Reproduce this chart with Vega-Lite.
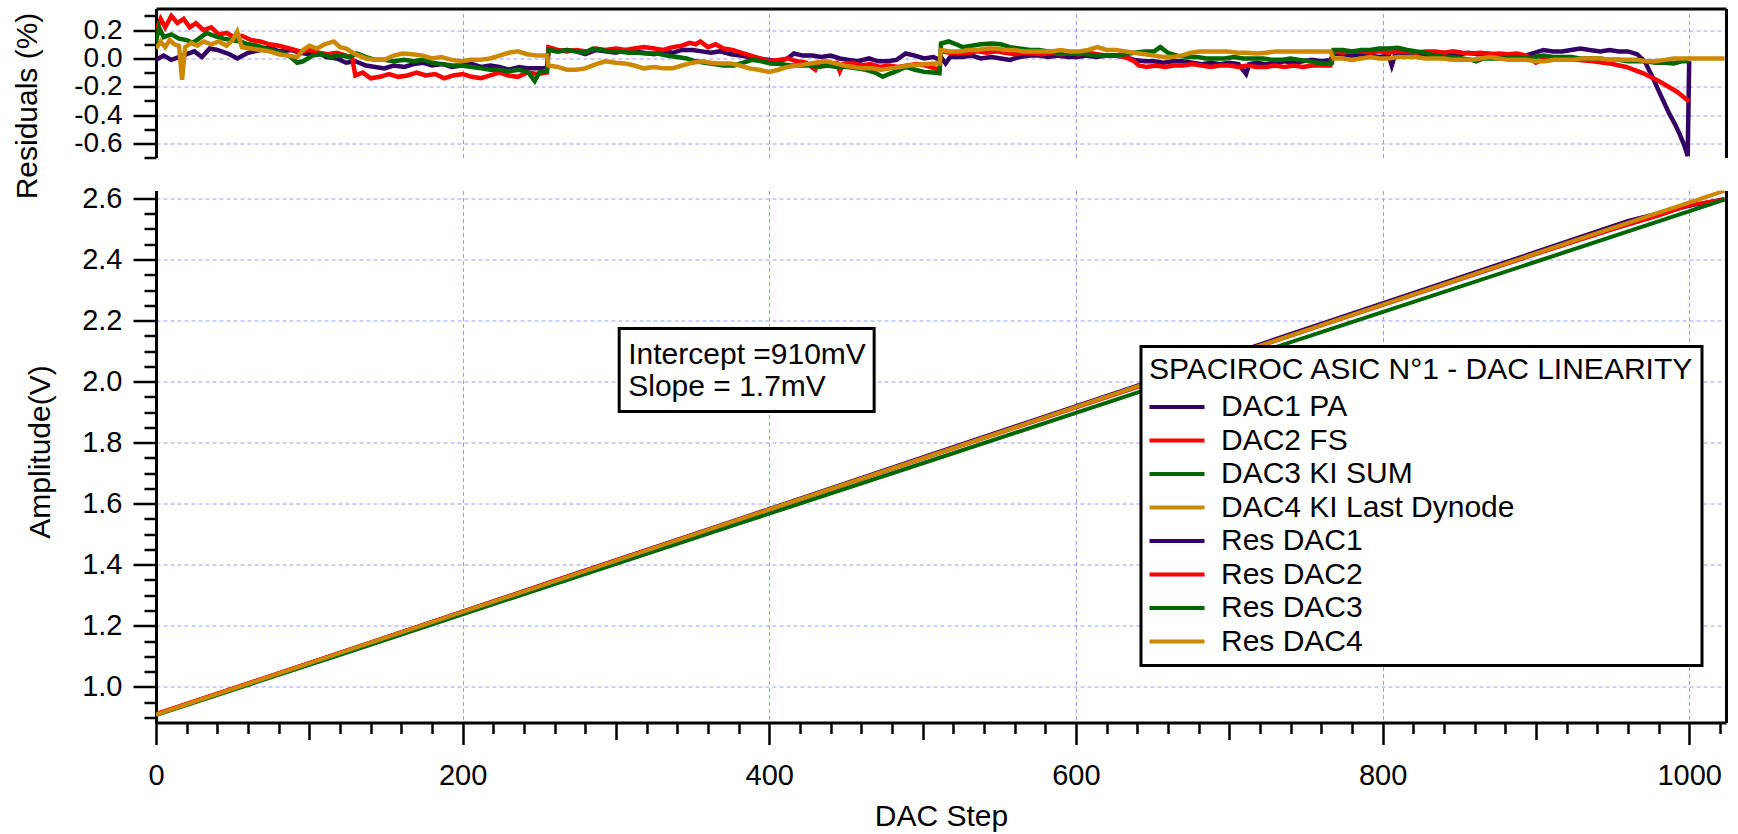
{
  "$schema": "https://vega.github.io/schema/vega-lite/v6.json",
  "padding": {"left": 12, "top": 8.5, "right": 5, "bottom": 0},
  "background": "white",
  "spacing": 33,
  "bounds": "flush",
  "config": {
    "font": "Liberation Sans",
    "view": {"stroke": null},
    "axis": {
      "labelFont": "Liberation Sans", "titleFont": "Liberation Sans",
      "labelFontSize": 29, "titleFontSize": 30, "titleFontWeight": "normal",
      "labelColor": "#000", "titleColor": "#000",
      "domainColor": "#000", "domainWidth": 3,
      "tickColor": "#000", "tickWidth": 2.5,
      "gridColor": "#9a9aff", "gridDash": [4, 3], "gridWidth": 1, "gridOpacity": 1,
      "labelOverlap": false, "labelFlush": false, "labelBound": false
    },
    "legend": {
      "orient": "none", "legendX": 985, "legendY": 338,
      "titleFont": "Liberation Sans", "titleFontSize": 30, "titleFontWeight": "normal", "titleColor": "#000",
      "labelFont": "Liberation Sans", "labelFontSize": 30, "labelColor": "#000",
      "symbolType": "M-2,0H2", "symbolSize": 756, "symbolStrokeWidth": 4,
      "strokeColor": "#000", "strokeWidth": 3, "fillColor": "#fff", "padding": 8,
      "rowPadding": 2.5, "titlePadding": 6.6, "labelOffset": 28, "symbolOffset": 12,
      "labelLimit": 700, "titleLimit": 700
    }
  },
  "datasets": {
    "amp": [
      {"s":"DAC1 PA","x":0,"y":0.910},{"s":"DAC1 PA","x":128,"y":1.125},{"s":"DAC1 PA","x":256,"y":1.341},{"s":"DAC1 PA","x":384,"y":1.556},{"s":"DAC1 PA","x":512,"y":1.772},{"s":"DAC1 PA","x":640,"y":1.987},{"s":"DAC1 PA","x":768,"y":2.203},{"s":"DAC1 PA","x":896,"y":2.418},{"s":"DAC1 PA","x":960,"y":2.526},{"s":"DAC1 PA","x":980,"y":2.552},{"s":"DAC1 PA","x":999,"y":2.574},{"s":"DAC1 PA","x":1023,"y":2.598},
      {"s":"DAC2 FS","x":0,"y":0.911},{"s":"DAC2 FS","x":128,"y":1.125},{"s":"DAC2 FS","x":256,"y":1.340},{"s":"DAC2 FS","x":384,"y":1.554},{"s":"DAC2 FS","x":512,"y":1.768},{"s":"DAC2 FS","x":640,"y":1.982},{"s":"DAC2 FS","x":768,"y":2.197},{"s":"DAC2 FS","x":896,"y":2.411},{"s":"DAC2 FS","x":950,"y":2.499},{"s":"DAC2 FS","x":980,"y":2.544},{"s":"DAC2 FS","x":1000,"y":2.578},{"s":"DAC2 FS","x":1023,"y":2.597},
      {"s":"DAC3 KI SUM","x":0,"y":0.907},{"s":"DAC3 KI SUM","x":128,"y":1.118},{"s":"DAC3 KI SUM","x":256,"y":1.330},{"s":"DAC3 KI SUM","x":384,"y":1.541},{"s":"DAC3 KI SUM","x":512,"y":1.752},{"s":"DAC3 KI SUM","x":640,"y":1.964},{"s":"DAC3 KI SUM","x":768,"y":2.175},{"s":"DAC3 KI SUM","x":896,"y":2.386},{"s":"DAC3 KI SUM","x":1023,"y":2.596},
      {"s":"DAC4 KI Last Dynode","x":0,"y":0.909},{"s":"DAC4 KI Last Dynode","x":128,"y":1.124},{"s":"DAC4 KI Last Dynode","x":256,"y":1.339},{"s":"DAC4 KI Last Dynode","x":384,"y":1.554},{"s":"DAC4 KI Last Dynode","x":512,"y":1.769},{"s":"DAC4 KI Last Dynode","x":640,"y":1.984},{"s":"DAC4 KI Last Dynode","x":768,"y":2.198},{"s":"DAC4 KI Last Dynode","x":896,"y":2.413},{"s":"DAC4 KI Last Dynode","x":1023,"y":2.625}
    ],
    "res": [
      {"s":"Res DAC1","x":0,"y":-0.01},{"s":"Res DAC1","x":5,"y":0.02},{"s":"Res DAC1","x":10,"y":-0.01},{"s":"Res DAC1","x":15,"y":0.01},{"s":"Res DAC1","x":20,"y":0.03},{"s":"Res DAC1","x":25,"y":0.05},{"s":"Res DAC1","x":30,"y":0.01},{"s":"Res DAC1","x":35,"y":0.07},{"s":"Res DAC1","x":40,"y":0.06},{"s":"Res DAC1","x":48,"y":0.03},{"s":"Res DAC1","x":53,"y":0.0},{"s":"Res DAC1","x":60,"y":0.04},{"s":"Res DAC1","x":68,"y":0.06},{"s":"Res DAC1","x":74,"y":0.08},{"s":"Res DAC1","x":80,"y":0.05},{"s":"Res DAC1","x":88,"y":0.06},{"s":"Res DAC1","x":94,"y":0.04},{"s":"Res DAC1","x":100,"y":0.03},{"s":"Res DAC1","x":106,"y":0.04},{"s":"Res DAC1","x":111,"y":0.01},{"s":"Res DAC1","x":118,"y":0.0},{"s":"Res DAC1","x":124,"y":-0.03},{"s":"Res DAC1","x":130,"y":-0.02},{"s":"Res DAC1","x":137,"y":-0.05},{"s":"Res DAC1","x":143,"y":-0.06},{"s":"Res DAC1","x":149,"y":-0.07},{"s":"Res DAC1","x":155,"y":-0.05},{"s":"Res DAC1","x":162,"y":-0.06},{"s":"Res DAC1","x":168,"y":-0.04},{"s":"Res DAC1","x":174,"y":-0.03},{"s":"Res DAC1","x":180,"y":-0.05},{"s":"Res DAC1","x":187,"y":-0.04},{"s":"Res DAC1","x":193,"y":-0.06},{"s":"Res DAC1","x":199,"y":-0.05},{"s":"Res DAC1","x":206,"y":-0.04},{"s":"Res DAC1","x":212,"y":-0.06},{"s":"Res DAC1","x":218,"y":-0.05},{"s":"Res DAC1","x":224,"y":-0.06},{"s":"Res DAC1","x":230,"y":-0.08},{"s":"Res DAC1","x":237,"y":-0.06},{"s":"Res DAC1","x":243,"y":-0.07},{"s":"Res DAC1","x":249,"y":-0.07},{"s":"Res DAC1","x":255,"y":-0.06},{"s":"Res DAC1","x":256,"y":0.07},{"s":"Res DAC1","x":262,"y":0.05},{"s":"Res DAC1","x":268,"y":0.06},{"s":"Res DAC1","x":274,"y":0.05},{"s":"Res DAC1","x":280,"y":0.03},{"s":"Res DAC1","x":287,"y":0.06},{"s":"Res DAC1","x":293,"y":0.05},{"s":"Res DAC1","x":300,"y":0.04},{"s":"Res DAC1","x":306,"y":0.06},{"s":"Res DAC1","x":312,"y":0.05},{"s":"Res DAC1","x":318,"y":0.04},{"s":"Res DAC1","x":325,"y":0.03},{"s":"Res DAC1","x":331,"y":0.05},{"s":"Res DAC1","x":337,"y":0.04},{"s":"Res DAC1","x":343,"y":0.06},{"s":"Res DAC1","x":350,"y":0.06},{"s":"Res DAC1","x":356,"y":0.05},{"s":"Res DAC1","x":362,"y":0.04},{"s":"Res DAC1","x":368,"y":0.05},{"s":"Res DAC1","x":375,"y":0.03},{"s":"Res DAC1","x":381,"y":0.02},{"s":"Res DAC1","x":387,"y":0.01},{"s":"Res DAC1","x":393,"y":0.0},{"s":"Res DAC1","x":400,"y":-0.01},{"s":"Res DAC1","x":406,"y":-0.02},{"s":"Res DAC1","x":412,"y":0.0},{"s":"Res DAC1","x":416,"y":0.035},{"s":"Res DAC1","x":422,"y":0.02},{"s":"Res DAC1","x":428,"y":0.02},{"s":"Res DAC1","x":434,"y":0.01},{"s":"Res DAC1","x":440,"y":0.02},{"s":"Res DAC1","x":446,"y":0.0},{"s":"Res DAC1","x":452,"y":-0.01},{"s":"Res DAC1","x":458,"y":-0.02},{"s":"Res DAC1","x":465,"y":0.0},{"s":"Res DAC1","x":471,"y":-0.02},{"s":"Res DAC1","x":477,"y":-0.02},{"s":"Res DAC1","x":483,"y":-0.01},{"s":"Res DAC1","x":489,"y":0.035},{"s":"Res DAC1","x":495,"y":0.02},{"s":"Res DAC1","x":501,"y":0.0},{"s":"Res DAC1","x":507,"y":0.01},{"s":"Res DAC1","x":511,"y":-0.01},{"s":"Res DAC1","x":512,"y":0.01},{"s":"Res DAC1","x":515,"y":-0.035},{"s":"Res DAC1","x":518,"y":0.01},{"s":"Res DAC1","x":526,"y":0.01},{"s":"Res DAC1","x":532,"y":0.02},{"s":"Res DAC1","x":538,"y":0.0},{"s":"Res DAC1","x":545,"y":0.01},{"s":"Res DAC1","x":551,"y":0.0},{"s":"Res DAC1","x":557,"y":-0.01},{"s":"Res DAC1","x":563,"y":0.01},{"s":"Res DAC1","x":570,"y":0.02},{"s":"Res DAC1","x":576,"y":0.02},{"s":"Res DAC1","x":582,"y":0.01},{"s":"Res DAC1","x":588,"y":0.02},{"s":"Res DAC1","x":595,"y":0.01},{"s":"Res DAC1","x":601,"y":0.01},{"s":"Res DAC1","x":607,"y":0.02},{"s":"Res DAC1","x":613,"y":0.01},{"s":"Res DAC1","x":620,"y":0.02},{"s":"Res DAC1","x":626,"y":0.02},{"s":"Res DAC1","x":632,"y":0.01},{"s":"Res DAC1","x":638,"y":-0.01},{"s":"Res DAC1","x":645,"y":-0.02},{"s":"Res DAC1","x":651,"y":-0.02},{"s":"Res DAC1","x":657,"y":-0.03},{"s":"Res DAC1","x":663,"y":-0.02},{"s":"Res DAC1","x":670,"y":-0.02},{"s":"Res DAC1","x":676,"y":-0.03},{"s":"Res DAC1","x":682,"y":-0.04},{"s":"Res DAC1","x":688,"y":-0.03},{"s":"Res DAC1","x":694,"y":-0.04},{"s":"Res DAC1","x":700,"y":-0.03},{"s":"Res DAC1","x":706,"y":-0.04},{"s":"Res DAC1","x":711,"y":-0.11},{"s":"Res DAC1","x":713,"y":-0.04},{"s":"Res DAC1","x":718,"y":-0.03},{"s":"Res DAC1","x":724,"y":-0.04},{"s":"Res DAC1","x":730,"y":-0.03},{"s":"Res DAC1","x":736,"y":-0.02},{"s":"Res DAC1","x":742,"y":-0.03},{"s":"Res DAC1","x":748,"y":-0.02},{"s":"Res DAC1","x":754,"y":-0.01},{"s":"Res DAC1","x":760,"y":-0.02},{"s":"Res DAC1","x":766,"y":-0.01},{"s":"Res DAC1","x":768,"y":0.035},{"s":"Res DAC1","x":774,"y":0.03},{"s":"Res DAC1","x":780,"y":0.02},{"s":"Res DAC1","x":786,"y":0.03},{"s":"Res DAC1","x":792,"y":0.02},{"s":"Res DAC1","x":798,"y":0.01},{"s":"Res DAC1","x":804,"y":0.02},{"s":"Res DAC1","x":806,"y":-0.05},{"s":"Res DAC1","x":808,"y":0.02},{"s":"Res DAC1","x":814,"y":0.03},{"s":"Res DAC1","x":820,"y":0.035},{"s":"Res DAC1","x":826,"y":0.02},{"s":"Res DAC1","x":832,"y":0.03},{"s":"Res DAC1","x":838,"y":0.04},{"s":"Res DAC1","x":844,"y":0.035},{"s":"Res DAC1","x":850,"y":0.03},{"s":"Res DAC1","x":856,"y":0.04},{"s":"Res DAC1","x":862,"y":0.03},{"s":"Res DAC1","x":868,"y":0.035},{"s":"Res DAC1","x":874,"y":0.03},{"s":"Res DAC1","x":880,"y":0.02},{"s":"Res DAC1","x":886,"y":0.03},{"s":"Res DAC1","x":893,"y":0.02},{"s":"Res DAC1","x":899,"y":0.04},{"s":"Res DAC1","x":905,"y":0.06},{"s":"Res DAC1","x":911,"y":0.05},{"s":"Res DAC1","x":917,"y":0.05},{"s":"Res DAC1","x":923,"y":0.06},{"s":"Res DAC1","x":929,"y":0.07},{"s":"Res DAC1","x":935,"y":0.06},{"s":"Res DAC1","x":942,"y":0.05},{"s":"Res DAC1","x":948,"y":0.06},{"s":"Res DAC1","x":954,"y":0.05},{"s":"Res DAC1","x":960,"y":0.05},{"s":"Res DAC1","x":966,"y":0.03},{"s":"Res DAC1","x":971,"y":-0.02},{"s":"Res DAC1","x":976,"y":-0.13},{"s":"Res DAC1","x":981,"y":-0.25},{"s":"Res DAC1","x":987,"y":-0.39},{"s":"Res DAC1","x":991,"y":-0.47},{"s":"Res DAC1","x":994,"y":-0.54},{"s":"Res DAC1","x":997,"y":-0.62},{"s":"Res DAC1","x":999,"y":-0.69},{"s":"Res DAC1","x":1000,"y":-0.02},
      {"s":"Res DAC2","x":0,"y":0.2},{"s":"Res DAC2","x":3,"y":0.28},{"s":"Res DAC2","x":6,"y":0.22},{"s":"Res DAC2","x":10,"y":0.3},{"s":"Res DAC2","x":14,"y":0.25},{"s":"Res DAC2","x":18,"y":0.28},{"s":"Res DAC2","x":22,"y":0.22},{"s":"Res DAC2","x":26,"y":0.25},{"s":"Res DAC2","x":31,"y":0.2},{"s":"Res DAC2","x":36,"y":0.22},{"s":"Res DAC2","x":41,"y":0.17},{"s":"Res DAC2","x":46,"y":0.18},{"s":"Res DAC2","x":51,"y":0.15},{"s":"Res DAC2","x":56,"y":0.16},{"s":"Res DAC2","x":62,"y":0.13},{"s":"Res DAC2","x":68,"y":0.12},{"s":"Res DAC2","x":74,"y":0.1},{"s":"Res DAC2","x":80,"y":0.09},{"s":"Res DAC2","x":87,"y":0.07},{"s":"Res DAC2","x":94,"y":0.05},{"s":"Res DAC2","x":100,"y":0.06},{"s":"Res DAC2","x":106,"y":0.04},{"s":"Res DAC2","x":112,"y":0.03},{"s":"Res DAC2","x":118,"y":0.04},{"s":"Res DAC2","x":124,"y":0.02},{"s":"Res DAC2","x":128,"y":0.0},{"s":"Res DAC2","x":130,"y":-0.12},{"s":"Res DAC2","x":135,"y":-0.1},{"s":"Res DAC2","x":140,"y":-0.14},{"s":"Res DAC2","x":146,"y":-0.13},{"s":"Res DAC2","x":152,"y":-0.11},{"s":"Res DAC2","x":158,"y":-0.13},{"s":"Res DAC2","x":164,"y":-0.12},{"s":"Res DAC2","x":170,"y":-0.1},{"s":"Res DAC2","x":176,"y":-0.12},{"s":"Res DAC2","x":182,"y":-0.11},{"s":"Res DAC2","x":188,"y":-0.14},{"s":"Res DAC2","x":194,"y":-0.12},{"s":"Res DAC2","x":200,"y":-0.11},{"s":"Res DAC2","x":206,"y":-0.13},{"s":"Res DAC2","x":212,"y":-0.14},{"s":"Res DAC2","x":218,"y":-0.12},{"s":"Res DAC2","x":224,"y":-0.1},{"s":"Res DAC2","x":230,"y":-0.12},{"s":"Res DAC2","x":236,"y":-0.13},{"s":"Res DAC2","x":242,"y":-0.1},{"s":"Res DAC2","x":249,"y":-0.11},{"s":"Res DAC2","x":255,"y":-0.1},{"s":"Res DAC2","x":256,"y":0.08},{"s":"Res DAC2","x":262,"y":0.06},{"s":"Res DAC2","x":268,"y":0.05},{"s":"Res DAC2","x":274,"y":0.06},{"s":"Res DAC2","x":281,"y":0.05},{"s":"Res DAC2","x":287,"y":0.07},{"s":"Res DAC2","x":293,"y":0.06},{"s":"Res DAC2","x":300,"y":0.07},{"s":"Res DAC2","x":306,"y":0.06},{"s":"Res DAC2","x":312,"y":0.07},{"s":"Res DAC2","x":318,"y":0.08},{"s":"Res DAC2","x":325,"y":0.07},{"s":"Res DAC2","x":331,"y":0.06},{"s":"Res DAC2","x":337,"y":0.08},{"s":"Res DAC2","x":343,"y":0.09},{"s":"Res DAC2","x":348,"y":0.11},{"s":"Res DAC2","x":352,"y":0.1},{"s":"Res DAC2","x":355,"y":0.12},{"s":"Res DAC2","x":360,"y":0.08},{"s":"Res DAC2","x":365,"y":0.1},{"s":"Res DAC2","x":370,"y":0.07},{"s":"Res DAC2","x":376,"y":0.06},{"s":"Res DAC2","x":382,"y":0.04},{"s":"Res DAC2","x":388,"y":0.02},{"s":"Res DAC2","x":394,"y":0.0},{"s":"Res DAC2","x":400,"y":-0.02},{"s":"Res DAC2","x":406,"y":-0.01},{"s":"Res DAC2","x":412,"y":0.0},{"s":"Res DAC2","x":418,"y":-0.02},{"s":"Res DAC2","x":424,"y":-0.03},{"s":"Res DAC2","x":430,"y":-0.08},{"s":"Res DAC2","x":432,"y":-0.03},{"s":"Res DAC2","x":438,"y":-0.04},{"s":"Res DAC2","x":444,"y":-0.03},{"s":"Res DAC2","x":446,"y":-0.09},{"s":"Res DAC2","x":448,"y":-0.04},{"s":"Res DAC2","x":454,"y":-0.03},{"s":"Res DAC2","x":460,"y":-0.05},{"s":"Res DAC2","x":466,"y":-0.04},{"s":"Res DAC2","x":472,"y":-0.06},{"s":"Res DAC2","x":478,"y":-0.05},{"s":"Res DAC2","x":484,"y":-0.06},{"s":"Res DAC2","x":490,"y":-0.05},{"s":"Res DAC2","x":496,"y":-0.04},{"s":"Res DAC2","x":502,"y":-0.05},{"s":"Res DAC2","x":508,"y":-0.07},{"s":"Res DAC2","x":511,"y":-0.08},{"s":"Res DAC2","x":512,"y":0.05},{"s":"Res DAC2","x":518,"y":0.04},{"s":"Res DAC2","x":524,"y":0.035},{"s":"Res DAC2","x":530,"y":0.04},{"s":"Res DAC2","x":536,"y":0.05},{"s":"Res DAC2","x":542,"y":0.04},{"s":"Res DAC2","x":548,"y":0.05},{"s":"Res DAC2","x":554,"y":0.04},{"s":"Res DAC2","x":560,"y":0.03},{"s":"Res DAC2","x":566,"y":0.04},{"s":"Res DAC2","x":572,"y":0.035},{"s":"Res DAC2","x":578,"y":0.03},{"s":"Res DAC2","x":584,"y":0.04},{"s":"Res DAC2","x":590,"y":0.03},{"s":"Res DAC2","x":596,"y":0.035},{"s":"Res DAC2","x":602,"y":0.03},{"s":"Res DAC2","x":608,"y":0.04},{"s":"Res DAC2","x":614,"y":0.03},{"s":"Res DAC2","x":620,"y":0.02},{"s":"Res DAC2","x":626,"y":0.02},{"s":"Res DAC2","x":632,"y":0.01},{"s":"Res DAC2","x":638,"y":-0.02},{"s":"Res DAC2","x":641,"y":-0.05},{"s":"Res DAC2","x":646,"y":-0.06},{"s":"Res DAC2","x":652,"y":-0.05},{"s":"Res DAC2","x":658,"y":-0.06},{"s":"Res DAC2","x":664,"y":-0.05},{"s":"Res DAC2","x":670,"y":-0.05},{"s":"Res DAC2","x":676,"y":-0.04},{"s":"Res DAC2","x":682,"y":-0.05},{"s":"Res DAC2","x":688,"y":-0.06},{"s":"Res DAC2","x":694,"y":-0.05},{"s":"Res DAC2","x":700,"y":-0.05},{"s":"Res DAC2","x":706,"y":-0.06},{"s":"Res DAC2","x":712,"y":-0.05},{"s":"Res DAC2","x":718,"y":-0.06},{"s":"Res DAC2","x":724,"y":-0.06},{"s":"Res DAC2","x":730,"y":-0.05},{"s":"Res DAC2","x":736,"y":-0.06},{"s":"Res DAC2","x":742,"y":-0.05},{"s":"Res DAC2","x":748,"y":-0.06},{"s":"Res DAC2","x":754,"y":-0.05},{"s":"Res DAC2","x":760,"y":-0.05},{"s":"Res DAC2","x":766,"y":-0.05},{"s":"Res DAC2","x":768,"y":0.05},{"s":"Res DAC2","x":774,"y":0.04},{"s":"Res DAC2","x":780,"y":0.05},{"s":"Res DAC2","x":786,"y":0.05},{"s":"Res DAC2","x":792,"y":0.04},{"s":"Res DAC2","x":798,"y":0.05},{"s":"Res DAC2","x":804,"y":0.04},{"s":"Res DAC2","x":810,"y":0.05},{"s":"Res DAC2","x":816,"y":0.05},{"s":"Res DAC2","x":822,"y":0.04},{"s":"Res DAC2","x":828,"y":0.05},{"s":"Res DAC2","x":834,"y":0.05},{"s":"Res DAC2","x":840,"y":0.04},{"s":"Res DAC2","x":846,"y":0.05},{"s":"Res DAC2","x":852,"y":0.04},{"s":"Res DAC2","x":858,"y":0.035},{"s":"Res DAC2","x":864,"y":0.04},{"s":"Res DAC2","x":870,"y":0.03},{"s":"Res DAC2","x":876,"y":0.035},{"s":"Res DAC2","x":882,"y":0.03},{"s":"Res DAC2","x":888,"y":0.035},{"s":"Res DAC2","x":894,"y":0.02},{"s":"Res DAC2","x":900,"y":-0.03},{"s":"Res DAC2","x":904,"y":-0.01},{"s":"Res DAC2","x":910,"y":-0.01},{"s":"Res DAC2","x":916,"y":-0.01},{"s":"Res DAC2","x":927,"y":-0.01},{"s":"Res DAC2","x":937,"y":-0.02},{"s":"Res DAC2","x":948,"y":-0.035},{"s":"Res DAC2","x":959,"y":-0.06},{"s":"Res DAC2","x":970,"y":-0.105},{"s":"Res DAC2","x":981,"y":-0.165},{"s":"Res DAC2","x":992,"y":-0.235},{"s":"Res DAC2","x":1000,"y":-0.305},
      {"s":"Res DAC3","x":0,"y":0.12},{"s":"Res DAC3","x":2,"y":0.22},{"s":"Res DAC3","x":5,"y":0.15},{"s":"Res DAC3","x":10,"y":0.17},{"s":"Res DAC3","x":15,"y":0.14},{"s":"Res DAC3","x":20,"y":0.13},{"s":"Res DAC3","x":24,"y":0.11},{"s":"Res DAC3","x":28,"y":0.14},{"s":"Res DAC3","x":33,"y":0.18},{"s":"Res DAC3","x":38,"y":0.16},{"s":"Res DAC3","x":44,"y":0.14},{"s":"Res DAC3","x":49,"y":0.13},{"s":"Res DAC3","x":55,"y":0.12},{"s":"Res DAC3","x":60,"y":0.1},{"s":"Res DAC3","x":66,"y":0.09},{"s":"Res DAC3","x":72,"y":0.07},{"s":"Res DAC3","x":78,"y":0.05},{"s":"Res DAC3","x":84,"y":0.03},{"s":"Res DAC3","x":88,"y":0.01},{"s":"Res DAC3","x":92,"y":-0.03},{"s":"Res DAC3","x":96,"y":-0.02},{"s":"Res DAC3","x":102,"y":0.02},{"s":"Res DAC3","x":108,"y":0.03},{"s":"Res DAC3","x":114,"y":0.01},{"s":"Res DAC3","x":120,"y":0.02},{"s":"Res DAC3","x":126,"y":0.01},{"s":"Res DAC3","x":131,"y":0.035},{"s":"Res DAC3","x":137,"y":0.01},{"s":"Res DAC3","x":143,"y":-0.01},{"s":"Res DAC3","x":149,"y":-0.01},{"s":"Res DAC3","x":155,"y":-0.02},{"s":"Res DAC3","x":162,"y":-0.01},{"s":"Res DAC3","x":168,"y":-0.02},{"s":"Res DAC3","x":174,"y":-0.01},{"s":"Res DAC3","x":180,"y":-0.03},{"s":"Res DAC3","x":187,"y":-0.04},{"s":"Res DAC3","x":193,"y":-0.05},{"s":"Res DAC3","x":199,"y":-0.05},{"s":"Res DAC3","x":206,"y":-0.06},{"s":"Res DAC3","x":212,"y":-0.07},{"s":"Res DAC3","x":218,"y":-0.08},{"s":"Res DAC3","x":224,"y":-0.08},{"s":"Res DAC3","x":230,"y":-0.09},{"s":"Res DAC3","x":237,"y":-0.08},{"s":"Res DAC3","x":243,"y":-0.1},{"s":"Res DAC3","x":247,"y":-0.16},{"s":"Res DAC3","x":250,"y":-0.1},{"s":"Res DAC3","x":255,"y":-0.09},{"s":"Res DAC3","x":256,"y":0.06},{"s":"Res DAC3","x":262,"y":0.05},{"s":"Res DAC3","x":268,"y":0.06},{"s":"Res DAC3","x":274,"y":0.05},{"s":"Res DAC3","x":280,"y":0.04},{"s":"Res DAC3","x":285,"y":0.07},{"s":"Res DAC3","x":290,"y":0.06},{"s":"Res DAC3","x":296,"y":0.05},{"s":"Res DAC3","x":302,"y":0.05},{"s":"Res DAC3","x":308,"y":0.04},{"s":"Res DAC3","x":314,"y":0.04},{"s":"Res DAC3","x":320,"y":0.035},{"s":"Res DAC3","x":327,"y":0.035},{"s":"Res DAC3","x":333,"y":0.02},{"s":"Res DAC3","x":340,"y":0.01},{"s":"Res DAC3","x":346,"y":0.0},{"s":"Res DAC3","x":352,"y":-0.02},{"s":"Res DAC3","x":358,"y":-0.03},{"s":"Res DAC3","x":364,"y":-0.04},{"s":"Res DAC3","x":370,"y":-0.05},{"s":"Res DAC3","x":377,"y":-0.05},{"s":"Res DAC3","x":383,"y":-0.03},{"s":"Res DAC3","x":389,"y":-0.01},{"s":"Res DAC3","x":395,"y":-0.02},{"s":"Res DAC3","x":401,"y":-0.035},{"s":"Res DAC3","x":407,"y":-0.04},{"s":"Res DAC3","x":414,"y":-0.05},{"s":"Res DAC3","x":420,"y":-0.05},{"s":"Res DAC3","x":426,"y":-0.05},{"s":"Res DAC3","x":432,"y":-0.06},{"s":"Res DAC3","x":438,"y":-0.05},{"s":"Res DAC3","x":444,"y":-0.06},{"s":"Res DAC3","x":451,"y":-0.06},{"s":"Res DAC3","x":457,"y":-0.07},{"s":"Res DAC3","x":463,"y":-0.08},{"s":"Res DAC3","x":469,"y":-0.1},{"s":"Res DAC3","x":474,"y":-0.13},{"s":"Res DAC3","x":478,"y":-0.11},{"s":"Res DAC3","x":483,"y":-0.09},{"s":"Res DAC3","x":489,"y":-0.06},{"s":"Res DAC3","x":495,"y":-0.08},{"s":"Res DAC3","x":501,"y":-0.095},{"s":"Res DAC3","x":507,"y":-0.1},{"s":"Res DAC3","x":511,"y":-0.105},{"s":"Res DAC3","x":512,"y":0.105},{"s":"Res DAC3","x":517,"y":0.12},{"s":"Res DAC3","x":522,"y":0.1},{"s":"Res DAC3","x":526,"y":0.08},{"s":"Res DAC3","x":532,"y":0.09},{"s":"Res DAC3","x":538,"y":0.1},{"s":"Res DAC3","x":545,"y":0.105},{"s":"Res DAC3","x":551,"y":0.1},{"s":"Res DAC3","x":557,"y":0.08},{"s":"Res DAC3","x":563,"y":0.07},{"s":"Res DAC3","x":570,"y":0.06},{"s":"Res DAC3","x":576,"y":0.06},{"s":"Res DAC3","x":582,"y":0.05},{"s":"Res DAC3","x":588,"y":0.04},{"s":"Res DAC3","x":595,"y":0.035},{"s":"Res DAC3","x":601,"y":0.035},{"s":"Res DAC3","x":607,"y":0.03},{"s":"Res DAC3","x":613,"y":0.02},{"s":"Res DAC3","x":620,"y":0.02},{"s":"Res DAC3","x":626,"y":0.02},{"s":"Res DAC3","x":632,"y":0.03},{"s":"Res DAC3","x":638,"y":0.04},{"s":"Res DAC3","x":645,"y":0.05},{"s":"Res DAC3","x":651,"y":0.05},{"s":"Res DAC3","x":655,"y":0.08},{"s":"Res DAC3","x":660,"y":0.04},{"s":"Res DAC3","x":666,"y":0.02},{"s":"Res DAC3","x":673,"y":0.01},{"s":"Res DAC3","x":679,"y":0.01},{"s":"Res DAC3","x":685,"y":0.0},{"s":"Res DAC3","x":691,"y":0.0},{"s":"Res DAC3","x":697,"y":0.0},{"s":"Res DAC3","x":703,"y":0.01},{"s":"Res DAC3","x":709,"y":0.0},{"s":"Res DAC3","x":715,"y":0.0},{"s":"Res DAC3","x":722,"y":0.0},{"s":"Res DAC3","x":728,"y":-0.01},{"s":"Res DAC3","x":734,"y":-0.01},{"s":"Res DAC3","x":740,"y":0.0},{"s":"Res DAC3","x":746,"y":-0.01},{"s":"Res DAC3","x":752,"y":-0.02},{"s":"Res DAC3","x":758,"y":-0.03},{"s":"Res DAC3","x":764,"y":-0.035},{"s":"Res DAC3","x":767,"y":-0.03},{"s":"Res DAC3","x":768,"y":0.06},{"s":"Res DAC3","x":774,"y":0.06},{"s":"Res DAC3","x":780,"y":0.05},{"s":"Res DAC3","x":786,"y":0.06},{"s":"Res DAC3","x":792,"y":0.06},{"s":"Res DAC3","x":798,"y":0.07},{"s":"Res DAC3","x":804,"y":0.07},{"s":"Res DAC3","x":810,"y":0.075},{"s":"Res DAC3","x":816,"y":0.06},{"s":"Res DAC3","x":822,"y":0.05},{"s":"Res DAC3","x":828,"y":0.04},{"s":"Res DAC3","x":834,"y":0.02},{"s":"Res DAC3","x":840,"y":0.01},{"s":"Res DAC3","x":846,"y":0.01},{"s":"Res DAC3","x":852,"y":0.0},{"s":"Res DAC3","x":858,"y":-0.01},{"s":"Res DAC3","x":861,"y":-0.02},{"s":"Res DAC3","x":866,"y":0.0},{"s":"Res DAC3","x":872,"y":0.0},{"s":"Res DAC3","x":880,"y":0.0},{"s":"Res DAC3","x":886,"y":0.01},{"s":"Res DAC3","x":893,"y":0.0},{"s":"Res DAC3","x":899,"y":0.01},{"s":"Res DAC3","x":905,"y":0.02},{"s":"Res DAC3","x":911,"y":0.01},{"s":"Res DAC3","x":917,"y":0.01},{"s":"Res DAC3","x":923,"y":0.01},{"s":"Res DAC3","x":929,"y":0.0},{"s":"Res DAC3","x":935,"y":0.0},{"s":"Res DAC3","x":942,"y":0.0},{"s":"Res DAC3","x":948,"y":-0.01},{"s":"Res DAC3","x":954,"y":-0.01},{"s":"Res DAC3","x":960,"y":-0.02},{"s":"Res DAC3","x":966,"y":-0.02},{"s":"Res DAC3","x":972,"y":-0.02},{"s":"Res DAC3","x":978,"y":-0.03},{"s":"Res DAC3","x":984,"y":-0.03},{"s":"Res DAC3","x":990,"y":-0.035},{"s":"Res DAC3","x":995,"y":-0.02},{"s":"Res DAC3","x":1000,"y":-0.02},
      {"s":"Res DAC4","x":0,"y":0.07},{"s":"Res DAC4","x":3,"y":0.12},{"s":"Res DAC4","x":6,"y":0.08},{"s":"Res DAC4","x":9,"y":0.13},{"s":"Res DAC4","x":12,"y":0.1},{"s":"Res DAC4","x":15,"y":0.09},{"s":"Res DAC4","x":17,"y":-0.15},{"s":"Res DAC4","x":19,"y":0.08},{"s":"Res DAC4","x":23,"y":0.11},{"s":"Res DAC4","x":27,"y":0.09},{"s":"Res DAC4","x":31,"y":0.12},{"s":"Res DAC4","x":36,"y":0.1},{"s":"Res DAC4","x":41,"y":0.12},{"s":"Res DAC4","x":46,"y":0.09},{"s":"Res DAC4","x":50,"y":0.13},{"s":"Res DAC4","x":53,"y":0.19},{"s":"Res DAC4","x":56,"y":0.08},{"s":"Res DAC4","x":62,"y":0.07},{"s":"Res DAC4","x":68,"y":0.06},{"s":"Res DAC4","x":74,"y":0.05},{"s":"Res DAC4","x":80,"y":0.03},{"s":"Res DAC4","x":86,"y":0.02},{"s":"Res DAC4","x":92,"y":0.01},{"s":"Res DAC4","x":96,"y":0.06},{"s":"Res DAC4","x":100,"y":0.09},{"s":"Res DAC4","x":105,"y":0.07},{"s":"Res DAC4","x":110,"y":0.1},{"s":"Res DAC4","x":116,"y":0.12},{"s":"Res DAC4","x":120,"y":0.08},{"s":"Res DAC4","x":124,"y":0.07},{"s":"Res DAC4","x":130,"y":0.03},{"s":"Res DAC4","x":137,"y":0.0},{"s":"Res DAC4","x":143,"y":-0.01},{"s":"Res DAC4","x":149,"y":-0.01},{"s":"Res DAC4","x":155,"y":0.02},{"s":"Res DAC4","x":161,"y":0.035},{"s":"Res DAC4","x":167,"y":0.03},{"s":"Res DAC4","x":174,"y":0.02},{"s":"Res DAC4","x":180,"y":0.0},{"s":"Res DAC4","x":186,"y":0.01},{"s":"Res DAC4","x":193,"y":-0.01},{"s":"Res DAC4","x":199,"y":-0.02},{"s":"Res DAC4","x":205,"y":-0.01},{"s":"Res DAC4","x":211,"y":-0.01},{"s":"Res DAC4","x":218,"y":0.0},{"s":"Res DAC4","x":224,"y":0.02},{"s":"Res DAC4","x":230,"y":0.04},{"s":"Res DAC4","x":236,"y":0.05},{"s":"Res DAC4","x":242,"y":0.03},{"s":"Res DAC4","x":249,"y":0.02},{"s":"Res DAC4","x":255,"y":0.02},{"s":"Res DAC4","x":256,"y":-0.05},{"s":"Res DAC4","x":262,"y":-0.06},{"s":"Res DAC4","x":268,"y":-0.08},{"s":"Res DAC4","x":274,"y":-0.08},{"s":"Res DAC4","x":280,"y":-0.07},{"s":"Res DAC4","x":287,"y":-0.04},{"s":"Res DAC4","x":293,"y":-0.02},{"s":"Res DAC4","x":300,"y":-0.03},{"s":"Res DAC4","x":306,"y":-0.035},{"s":"Res DAC4","x":312,"y":-0.05},{"s":"Res DAC4","x":318,"y":-0.07},{"s":"Res DAC4","x":325,"y":-0.06},{"s":"Res DAC4","x":331,"y":-0.07},{"s":"Res DAC4","x":337,"y":-0.07},{"s":"Res DAC4","x":343,"y":-0.05},{"s":"Res DAC4","x":350,"y":-0.03},{"s":"Res DAC4","x":356,"y":-0.02},{"s":"Res DAC4","x":362,"y":-0.03},{"s":"Res DAC4","x":368,"y":-0.035},{"s":"Res DAC4","x":375,"y":-0.035},{"s":"Res DAC4","x":381,"y":-0.05},{"s":"Res DAC4","x":387,"y":-0.07},{"s":"Res DAC4","x":393,"y":-0.08},{"s":"Res DAC4","x":400,"y":-0.095},{"s":"Res DAC4","x":406,"y":-0.08},{"s":"Res DAC4","x":412,"y":-0.06},{"s":"Res DAC4","x":418,"y":-0.05},{"s":"Res DAC4","x":424,"y":-0.04},{"s":"Res DAC4","x":430,"y":-0.03},{"s":"Res DAC4","x":437,"y":-0.02},{"s":"Res DAC4","x":443,"y":-0.035},{"s":"Res DAC4","x":449,"y":-0.05},{"s":"Res DAC4","x":455,"y":-0.06},{"s":"Res DAC4","x":461,"y":-0.07},{"s":"Res DAC4","x":467,"y":-0.07},{"s":"Res DAC4","x":473,"y":-0.08},{"s":"Res DAC4","x":479,"y":-0.07},{"s":"Res DAC4","x":485,"y":-0.06},{"s":"Res DAC4","x":491,"y":-0.05},{"s":"Res DAC4","x":497,"y":-0.045},{"s":"Res DAC4","x":503,"y":-0.04},{"s":"Res DAC4","x":509,"y":-0.035},{"s":"Res DAC4","x":511,"y":-0.035},{"s":"Res DAC4","x":512,"y":0.06},{"s":"Res DAC4","x":518,"y":0.05},{"s":"Res DAC4","x":524,"y":0.05},{"s":"Res DAC4","x":530,"y":0.06},{"s":"Res DAC4","x":536,"y":0.06},{"s":"Res DAC4","x":542,"y":0.07},{"s":"Res DAC4","x":548,"y":0.07},{"s":"Res DAC4","x":554,"y":0.06},{"s":"Res DAC4","x":560,"y":0.06},{"s":"Res DAC4","x":566,"y":0.05},{"s":"Res DAC4","x":572,"y":0.05},{"s":"Res DAC4","x":578,"y":0.05},{"s":"Res DAC4","x":584,"y":0.05},{"s":"Res DAC4","x":590,"y":0.06},{"s":"Res DAC4","x":596,"y":0.05},{"s":"Res DAC4","x":602,"y":0.05},{"s":"Res DAC4","x":608,"y":0.06},{"s":"Res DAC4","x":614,"y":0.08},{"s":"Res DAC4","x":620,"y":0.06},{"s":"Res DAC4","x":626,"y":0.06},{"s":"Res DAC4","x":632,"y":0.05},{"s":"Res DAC4","x":638,"y":0.04},{"s":"Res DAC4","x":645,"y":0.03},{"s":"Res DAC4","x":651,"y":0.02},{"s":"Res DAC4","x":657,"y":0.01},{"s":"Res DAC4","x":663,"y":0.01},{"s":"Res DAC4","x":669,"y":0.02},{"s":"Res DAC4","x":675,"y":0.04},{"s":"Res DAC4","x":681,"y":0.05},{"s":"Res DAC4","x":687,"y":0.05},{"s":"Res DAC4","x":693,"y":0.05},{"s":"Res DAC4","x":699,"y":0.05},{"s":"Res DAC4","x":705,"y":0.04},{"s":"Res DAC4","x":712,"y":0.04},{"s":"Res DAC4","x":718,"y":0.035},{"s":"Res DAC4","x":724,"y":0.04},{"s":"Res DAC4","x":730,"y":0.05},{"s":"Res DAC4","x":736,"y":0.05},{"s":"Res DAC4","x":742,"y":0.05},{"s":"Res DAC4","x":748,"y":0.05},{"s":"Res DAC4","x":754,"y":0.05},{"s":"Res DAC4","x":760,"y":0.05},{"s":"Res DAC4","x":766,"y":0.05},{"s":"Res DAC4","x":768,"y":0.0},{"s":"Res DAC4","x":774,"y":0.0},{"s":"Res DAC4","x":780,"y":-0.01},{"s":"Res DAC4","x":786,"y":0.0},{"s":"Res DAC4","x":792,"y":0.01},{"s":"Res DAC4","x":798,"y":0.0},{"s":"Res DAC4","x":804,"y":0.0},{"s":"Res DAC4","x":810,"y":0.01},{"s":"Res DAC4","x":816,"y":0.01},{"s":"Res DAC4","x":822,"y":0.01},{"s":"Res DAC4","x":828,"y":0.0},{"s":"Res DAC4","x":834,"y":0.0},{"s":"Res DAC4","x":840,"y":0.0},{"s":"Res DAC4","x":846,"y":-0.01},{"s":"Res DAC4","x":852,"y":-0.01},{"s":"Res DAC4","x":858,"y":-0.01},{"s":"Res DAC4","x":864,"y":0.0},{"s":"Res DAC4","x":870,"y":0.01},{"s":"Res DAC4","x":876,"y":0.0},{"s":"Res DAC4","x":882,"y":-0.01},{"s":"Res DAC4","x":888,"y":-0.01},{"s":"Res DAC4","x":894,"y":-0.01},{"s":"Res DAC4","x":900,"y":-0.02},{"s":"Res DAC4","x":906,"y":-0.02},{"s":"Res DAC4","x":912,"y":-0.01},{"s":"Res DAC4","x":918,"y":-0.01},{"s":"Res DAC4","x":924,"y":-0.01},{"s":"Res DAC4","x":930,"y":0.0},{"s":"Res DAC4","x":936,"y":0.0},{"s":"Res DAC4","x":942,"y":0.0},{"s":"Res DAC4","x":948,"y":-0.01},{"s":"Res DAC4","x":954,"y":-0.01},{"s":"Res DAC4","x":960,"y":-0.01},{"s":"Res DAC4","x":966,"y":-0.01},{"s":"Res DAC4","x":972,"y":-0.02},{"s":"Res DAC4","x":978,"y":-0.02},{"s":"Res DAC4","x":984,"y":-0.01},{"s":"Res DAC4","x":990,"y":0.0},{"s":"Res DAC4","x":995,"y":0.0},{"s":"Res DAC4","x":1000,"y":0.0},{"s":"Res DAC4","x":1023,"y":0.0}
    ]
  },
  "vconcat": [
    {
      "width": 1570, "height": 149,
      "resolve": {"axis": {"x": "independent", "y": "independent"}},
      "layer": [
        {
          "data": {"name": "res"},
          "mark": {"type": "line", "strokeWidth": 4.5, "clip": true},
          "encoding": {
            "x": {"field": "x", "type": "quantitative",
                  "scale": {"domain": [0, 1024], "nice": false, "zero": false},
                  "axis": {"orient": "top", "values": [200, 400, 600, 800, 1000], "ticks": false, "labels": false, "title": null, "grid": true, "domain": true}},
            "y": {"field": "y", "type": "quantitative",
                  "scale": {"domain": [-0.7, 0.353], "nice": false, "zero": false},
                  "axis": {"orient": "left", "values": [0.2, 0, -0.2, -0.4, -0.6], "tickSize": 23, "labelPadding": 11, "labelFontSize": 28,
                           "labelExpr": "replace(format(datum.value, '.1f'), '\u2212', '-')",
                           "grid": true, "domain": true, "title": "Residuals (%)",
                           "titleX": -119.7, "titleY": 97, "titleAngle": 270, "titleBaseline": "alphabetic", "titleAlign": "center"}},
            "color": {"field": "s", "type": "nominal", "title": "SPACIROC ASIC N°1 - DAC LINEARITY",
                      "scale": {"domain": ["DAC1 PA", "DAC2 FS", "DAC3 KI SUM", "DAC4 KI Last Dynode", "Res DAC1", "Res DAC2", "Res DAC3", "Res DAC4"],
                                "range": ["#330066", "#ff0000", "#006600", "#cc8800", "#330066", "#ff0000", "#006600", "#cc8800"]}}
          }
        },
        {
          "data": {"values": [{}]},
          "mark": {"type": "point", "opacity": 0},
          "encoding": {
            "y": {"datum": 0, "type": "quantitative",
                  "scale": {"domain": [-0.7, 0.353], "nice": false, "zero": false},
                  "axis": {"orient": "left", "values": [0.3, 0.1, -0.1, -0.3, -0.5, -0.7], "tickSize": 12, "labels": false, "domain": false, "grid": false, "title": null}}
          }
        },
        {
          "data": {"values": [{}]},
          "mark": {"type": "point", "opacity": 0},
          "encoding": {
            "y": {"datum": 0, "type": "quantitative",
                  "scale": {"domain": [-0.7, 0.353], "nice": false, "zero": false},
                  "axis": {"orient": "right", "ticks": false, "labels": false, "domain": true, "grid": false, "title": null}}
          }
        }
      ]
    },
    {
      "width": 1570, "height": 532,
      "resolve": {"axis": {"x": "independent", "y": "independent"}},
      "layer": [
        {
          "data": {"name": "amp"},
          "mark": {"type": "line", "strokeWidth": 4, "clip": true},
          "encoding": {
            "x": {"field": "x", "type": "quantitative",
                  "scale": {"domain": [0, 1024], "nice": false, "zero": false},
                  "axis": {"orient": "bottom", "values": [0, 200, 400, 600, 800, 1000], "tickSize": 22, "labelPadding": 17, "format": "d",
                           "grid": true, "domain": true, "title": "DAC Step",
                           "titleX": 785, "titleY": 103, "titleBaseline": "alphabetic", "titleAlign": "center"}},
            "y": {"field": "y", "type": "quantitative",
                  "scale": {"domain": [0.883, 2.626], "nice": false, "zero": false},
                  "axis": {"orient": "left", "values": [1.0, 1.2, 1.4, 1.6, 1.8, 2.0, 2.2, 2.4, 2.6], "tickSize": 23, "labelPadding": 11, "format": ".1f",
                           "grid": true, "domain": true, "title": "Amplitude(V)",
                           "titleX": -106.4, "titleY": 261, "titleAngle": 270, "titleBaseline": "alphabetic", "titleAlign": "center"}},
            "color": {"field": "s", "type": "nominal", "title": "SPACIROC ASIC N°1 - DAC LINEARITY",
                      "scale": {"domain": ["DAC1 PA", "DAC2 FS", "DAC3 KI SUM", "DAC4 KI Last Dynode", "Res DAC1", "Res DAC2", "Res DAC3", "Res DAC4"],
                                "range": ["#330066", "#ff0000", "#006600", "#cc8800", "#330066", "#ff0000", "#006600", "#cc8800"]}}
          }
        },
        {
          "data": {"values": [{}]},
          "mark": {"type": "point", "opacity": 0},
          "encoding": {
            "x": {"datum": 500, "type": "quantitative",
                  "scale": {"domain": [0, 1024], "nice": false, "zero": false},
                  "axis": {"orient": "bottom", "values": [100, 300, 500, 700, 900], "tickSize": 17, "labels": false, "domain": false, "grid": false, "title": null}},
            "y": {"datum": 1.5, "type": "quantitative",
                  "scale": {"domain": [0.883, 2.626], "nice": false, "zero": false},
                  "axis": {"orient": "left", "values": [0.9, 0.95, 1.05, 1.1, 1.15, 1.25, 1.3, 1.35, 1.45, 1.5, 1.55, 1.65, 1.7, 1.75, 1.85, 1.9, 1.95, 2.05, 2.1, 2.15, 2.25, 2.3, 2.35, 2.45, 2.5, 2.55],
                           "tickSize": 12, "labels": false, "domain": false, "grid": false, "title": null}}
          }
        },
        {
          "data": {"values": [{}]},
          "mark": {"type": "point", "opacity": 0},
          "encoding": {
            "x": {"datum": 500, "type": "quantitative",
                  "scale": {"domain": [0, 1024], "nice": false, "zero": false},
                  "axis": {"orient": "bottom", "values": [20, 40, 60, 80, 120, 140, 160, 180, 220, 240, 260, 280, 320, 340, 360, 380, 420, 440, 460, 480, 520, 540, 560, 580, 620, 640, 660, 680, 720, 740, 760, 780, 820, 840, 860, 880, 920, 940, 960, 980, 1020],
                           "tickSize": 11, "labels": false, "domain": false, "grid": false, "title": null}},
            "y": {"datum": 1.5, "type": "quantitative",
                  "scale": {"domain": [0.883, 2.626], "nice": false, "zero": false},
                  "axis": {"orient": "right", "ticks": false, "labels": false, "domain": true, "grid": false, "title": null}}
          }
        },
        {
          "data": {"values": [{}]},
          "mark": {"type": "rect", "fill": "#ffffff", "stroke": "#000000", "strokeWidth": 3},
          "encoding": {
            "x": {"datum": 302.1, "type": "quantitative", "axis": null, "scale": {"domain": [0, 1024], "nice": false, "zero": false}},
            "x2": {"datum": 468.4},
            "y": {"datum": 2.174, "type": "quantitative", "axis": null, "scale": {"domain": [0.883, 2.626], "nice": false, "zero": false}},
            "y2": {"datum": 1.902}
          }
        },
        {
          "data": {"values": [{}]},
          "mark": {"type": "text", "align": "left", "baseline": "alphabetic", "fontSize": 30, "font": "Liberation Sans", "color": "#000000"},
          "encoding": {
            "x": {"datum": 308, "type": "quantitative", "axis": null, "scale": {"domain": [0, 1024], "nice": false, "zero": false}},
            "y": {"datum": 2.059, "type": "quantitative", "axis": null, "scale": {"domain": [0.883, 2.626], "nice": false, "zero": false}},
            "text": {"value": "Intercept =910mV"}
          }
        },
        {
          "data": {"values": [{}]},
          "mark": {"type": "text", "align": "left", "baseline": "alphabetic", "fontSize": 30, "font": "Liberation Sans", "color": "#000000"},
          "encoding": {
            "x": {"datum": 308, "type": "quantitative", "axis": null, "scale": {"domain": [0, 1024], "nice": false, "zero": false}},
            "y": {"datum": 1.953, "type": "quantitative", "axis": null, "scale": {"domain": [0.883, 2.626], "nice": false, "zero": false}},
            "text": {"value": "Slope = 1.7mV"}
          }
        }
      ]
    }
  ]
}
